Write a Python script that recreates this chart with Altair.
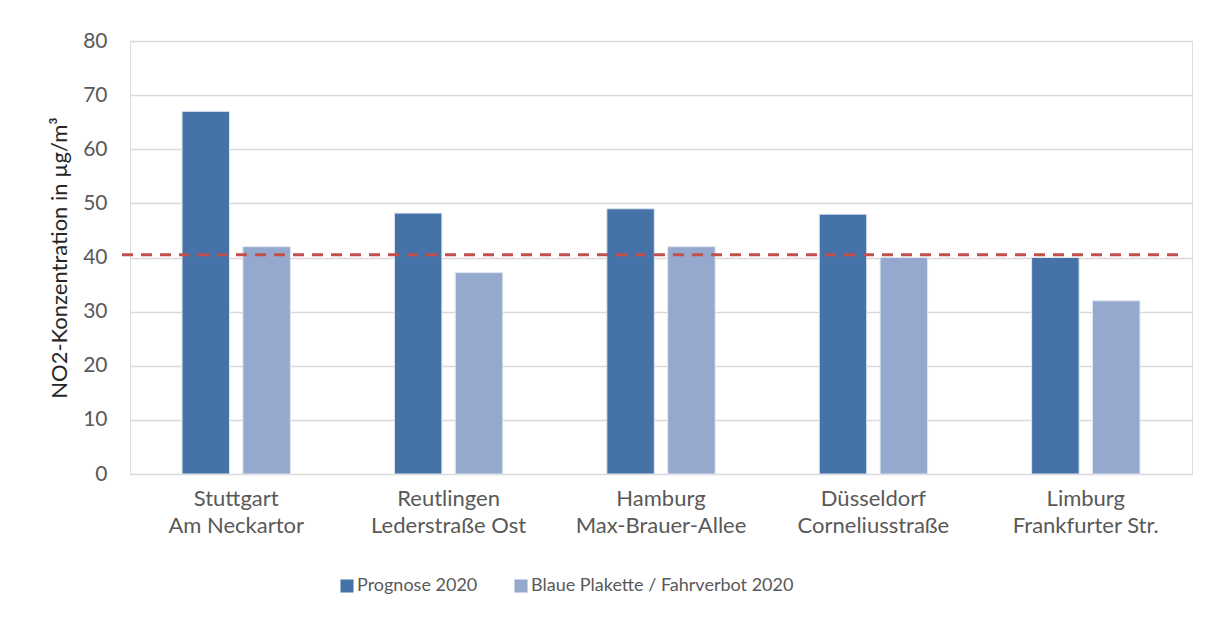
import altair as alt
import pandas as pd

cities = ["Stuttgart", "Reutlingen", "Hamburg", "Düsseldorf", "Limburg"]
streets = ["Am Neckartor", "Lederstraße Ost", "Max-Brauer-Allee", "Corneliusstraße", "Frankfurter Str."]
series = ["Prognose 2020", "Blaue Plakette / Fahrverbot 2020"]
prognose = [67, 48.2, 49, 48, 40]
plakette = [42, 37.2, 42, 40, 32]
limit = 40.5

labels = [f"{c}|{s}" for c, s in zip(cities, streets)]
rows = []
for i, lab in enumerate(labels):
    rows.append({"ort": lab, "serie": series[0], "wert": prognose[i]})
    rows.append({"ort": lab, "serie": series[1], "wert": plakette[i]})
df = pd.DataFrame(rows)

FONT = "Lato"
GRAY = "#595959"

bars = alt.Chart(df).mark_bar(stroke="#dfe6f1", strokeWidth=1).encode(
    x=alt.X("ort:N", sort=labels, title=None,
            scale=alt.Scale(paddingInner=0.49, paddingOuter=0.245),
            axis=alt.Axis(labelExpr="split(datum.label, '|')", labelAngle=0,
                          labelFontSize=22, labelColor=GRAY, labelFont=FONT,
                          labelPadding=14, labelLineHeight=27, ticks=False,
                          domain=False, labelBaseline="top", labelLimit=300)),
    xOffset=alt.XOffset("serie:N", sort=series,
                        scale=alt.Scale(paddingInner=0.22, paddingOuter=0)),
    y=alt.Y("wert:Q", title="NO2-Konzentration in µg/m³",
            scale=alt.Scale(domain=[0, 80]),
            axis=alt.Axis(values=[0, 10, 20, 30, 40, 50, 60, 70, 80],
                          labelFontSize=21, labelColor=GRAY, labelFont=FONT,
                          labelPadding=23, ticks=False, domain=False,
                          gridColor="#d9d9d9", gridWidth=1.5,
                          titleFontSize=22, titleFont=FONT, titleColor="#262626",
                          titleFontWeight="normal", titlePadding=11)),
    color=alt.Color("serie:N", sort=series,
                    scale=alt.Scale(domain=series, range=["#4572a7", "#95a9cf"]),
                    legend=alt.Legend(title=None, orient="none", direction="horizontal",
                                      legendX=208, legendY=536,
                                      symbolType="square", symbolSize=170,
                                      symbolStrokeWidth=0, labelFontSize=18,
                                      labelFont=FONT, labelColor=GRAY,
                                      columnPadding=34, labelOffset=1,
                                      labelLimit=500)),
)

rule_df = pd.DataFrame({"y": [limit]})
rule = alt.Chart(rule_df).mark_rule(color="#c0504d", strokeWidth=3,
                                    strokeDash=[11, 8]).encode(
    y="y:Q", x=alt.value(-8), x2=alt.value(1050)
)

chart = alt.layer(bars, rule).properties(
    width=1062, height=433,
    autosize=alt.AutoSizeParams(type="none"),
    padding={"left": 122, "top": 33, "right": 15, "bottom": 140},
).configure_view(stroke=None).configure(background="white")

chart.save("out.html", embed_options={"renderer": "svg", "actions": False})
